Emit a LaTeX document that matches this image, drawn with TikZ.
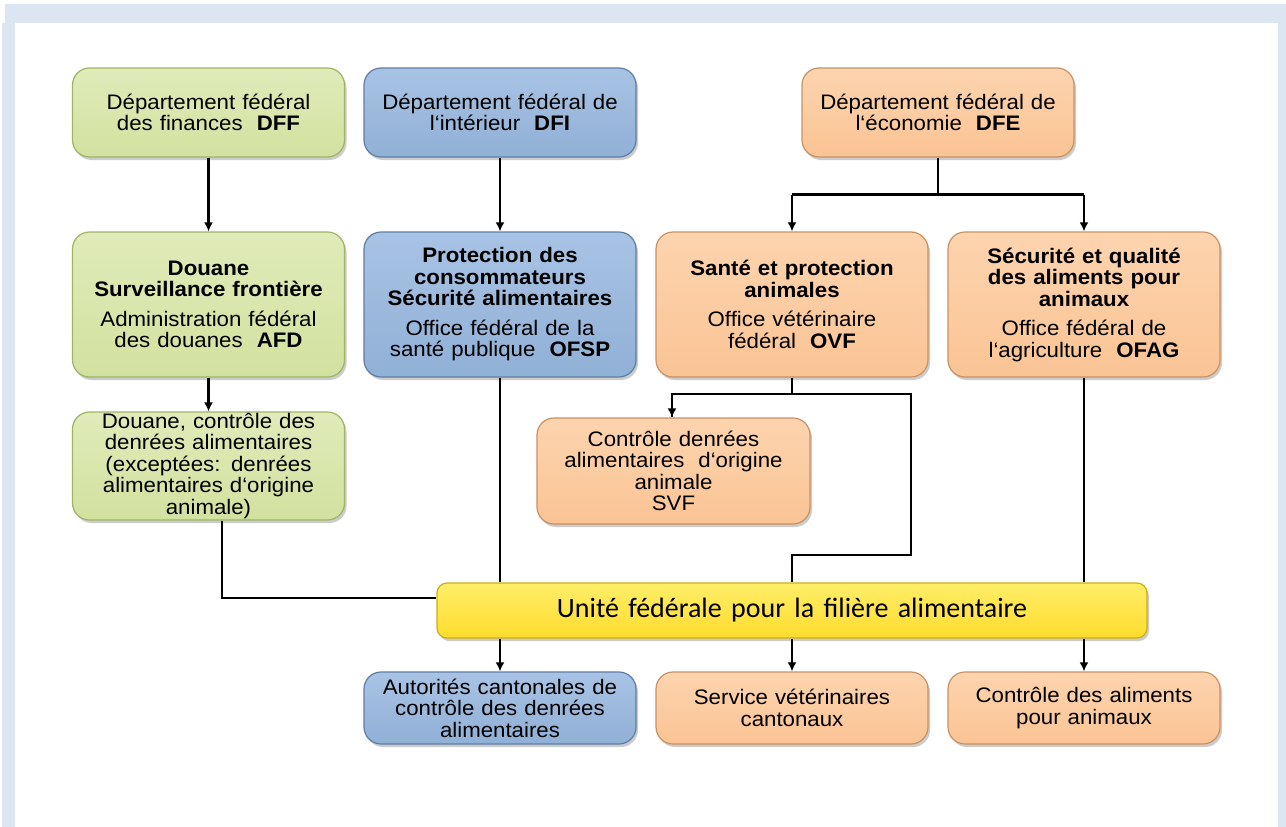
\documentclass[tikz,border=0pt]{standalone}
\usepackage{fontspec}
\setmainfont{Liberation Sans}[FakeStretch=1.06]
\newfontfamily\calib{Carlito}
\usetikzlibrary{arrows.meta,shadows}
\definecolor{frameblue}{RGB}{220,230,242}
\definecolor{gfill}{RGB}{210,225,160}
\definecolor{gtop}{RGB}{224,235,185}
\definecolor{gdraw}{RGB}{160,180,100}
\definecolor{bfill}{RGB}{145,176,214}
\definecolor{btop}{RGB}{168,195,228}
\definecolor{bdraw}{RGB}{95,125,165}
\definecolor{ofill}{RGB}{250,196,148}
\definecolor{otop}{RGB}{253,212,175}
\definecolor{odraw}{RGB}{200,145,100}
\definecolor{yfill}{RGB}{255,220,45}
\definecolor{ytop}{RGB}{255,238,105}
\definecolor{ydraw}{RGB}{205,175,20}
\begin{document}
\begin{tikzpicture}[x=1pt,y=-1pt,
  box/.style={rectangle, rounded corners=17pt, minimum width=272pt, text width=264pt,
    align=center, inner sep=0pt, line width=1.2pt,
    font=\fontsize{21}{21.5}\selectfont,
    drop shadow={shadow xshift=2pt, shadow yshift=-3pt, opacity=0.4}},
  gbox/.style={box, top color=gtop, bottom color=gfill, draw=gdraw},
  bbox/.style={box, top color=btop, bottom color=bfill, draw=bdraw},
  obox/.style={box, top color=otop, bottom color=ofill, draw=odraw},
  ybox/.style={box, top color=ytop, bottom color=yfill, draw=ydraw, rounded corners=10pt,
    font=\calib\fontsize{28}{29}\selectfont},
  ln/.style={line width=2.4pt, draw=black},
  arr/.style={ln, -{Latex[length=9pt,width=9pt]}}
]
\useasboundingbox (0,0) rectangle (1286,827);
\fill[white] (0,0) rectangle (1286,827);
\fill[frameblue] (5,4) rectangle (1286,23);
\fill[frameblue] (2,23) rectangle (15,827);
\fill[frameblue] (1278,23) rectangle (1286,827);

% top row
\node[gbox, minimum height=89pt] (dff) at (208.5,112.5) {Département fédéral\\des finances \ \textbf{DFF}};
\node[bbox, minimum height=89pt] (dfi) at (500,112.5) {Département fédéral de\\l‘intérieur \ \textbf{DFI}};
\node[obox, minimum height=89pt] (dfe) at (938,112.5) {Département fédéral de\\l‘économie \ \textbf{DFE}};

% second row
\node[gbox, minimum height=145pt] (afd) at (208.5,304.5)
  {\textbf{Douane}\\\textbf{Surveillance frontière}\\[8pt]Administration fédéral\\des douanes \ \textbf{AFD}};
\node[bbox, minimum height=145pt] (ofsp) at (500,304.5)
  {\textbf{Protection des}\\\textbf{consommateurs}\\\textbf{Sécurité alimentaires}\\[8pt]Office fédéral de la\\santé publique \ \textbf{OFSP}};
\node[obox, minimum height=145pt] (ovf) at (792,304.5)
  {\textbf{Santé et protection}\\\textbf{animales}\\[8pt]Office vétérinaire\\fédéral \ \textbf{OVF}};
\node[obox, minimum height=145pt] (ofag) at (1084,304.5)
  {\textbf{Sécurité et qualité}\\\textbf{des aliments pour}\\\textbf{animaux}\\[8pt]Office fédéral de\\l‘agriculture \ \textbf{OFAG}};

% third row
\node[gbox, minimum height=108pt] (ctrl) at (208.5,466)
  {Douane, contrôle des\\denrées alimentaires\\(exceptées: denrées\\alimentaires d‘origine\\animale)};
\node[obox, minimum height=106pt, minimum width=273pt] (svf) at (673.5,471)
  {Contrôle denrées\\alimentaires \ d‘origine\\animale\\SVF};

% yellow unit
\node[ybox, minimum width=710pt, text width=700pt, minimum height=55pt] (unit) at (792,610.5)
  {Unité fédérale pour la filière alimentaire};

% bottom row
\node[bbox, minimum height=72pt] (cant) at (500,708)
  {Autorités cantonales de\\contrôle des denrées\\alimentaires};
\node[obox, minimum height=72pt] (svc) at (792,708)
  {Service vétérinaires\\cantonaux};
\node[obox, minimum height=72pt] (alim) at (1084,708)
  {Contrôle des aliments\\pour animaux};

% connectors
\draw[arr] (dff) -- (afd);
\draw[arr] (dfi) -- (ofsp);
\draw[ln] (dfe.south) -- ++(0,37) coordinate (dsplit);
\draw[ln] (ovf.north |- dsplit) -- (ofag.north |- dsplit);
\draw[arr] (ovf.north |- dsplit) -- (ovf.north);
\draw[arr] (ofag.north |- dsplit) -- (ofag.north);
\draw[arr] (afd) -- (ctrl);

\coordinate (cx) at (222,598);
\draw[ln] (ctrl.south -| cx) |- (unit.west |- cx);
\draw[ln] (ofsp.south) -- (ofsp.south |- unit.north);

\coordinate (osplit) at (792,394);
\coordinate (oright) at (911,555);
\draw[ln] (ovf.south) -- (osplit);
\draw[ln] (svf.north -| 672,0) |- (oright |- osplit) -- (oright) -| (unit.north);
\draw[arr] (672,394) -- (svf.north -| 672,0);
\draw[ln] (ofag.south) -- (ofag.south |- unit.north);

\draw[arr] (unit.south -| cant.north) -- (cant.north);
\draw[arr] (unit.south -| svc.north) -- (svc.north);
\draw[arr] (unit.south -| alim.north) -- (alim.north);
\end{tikzpicture}
\end{document}
